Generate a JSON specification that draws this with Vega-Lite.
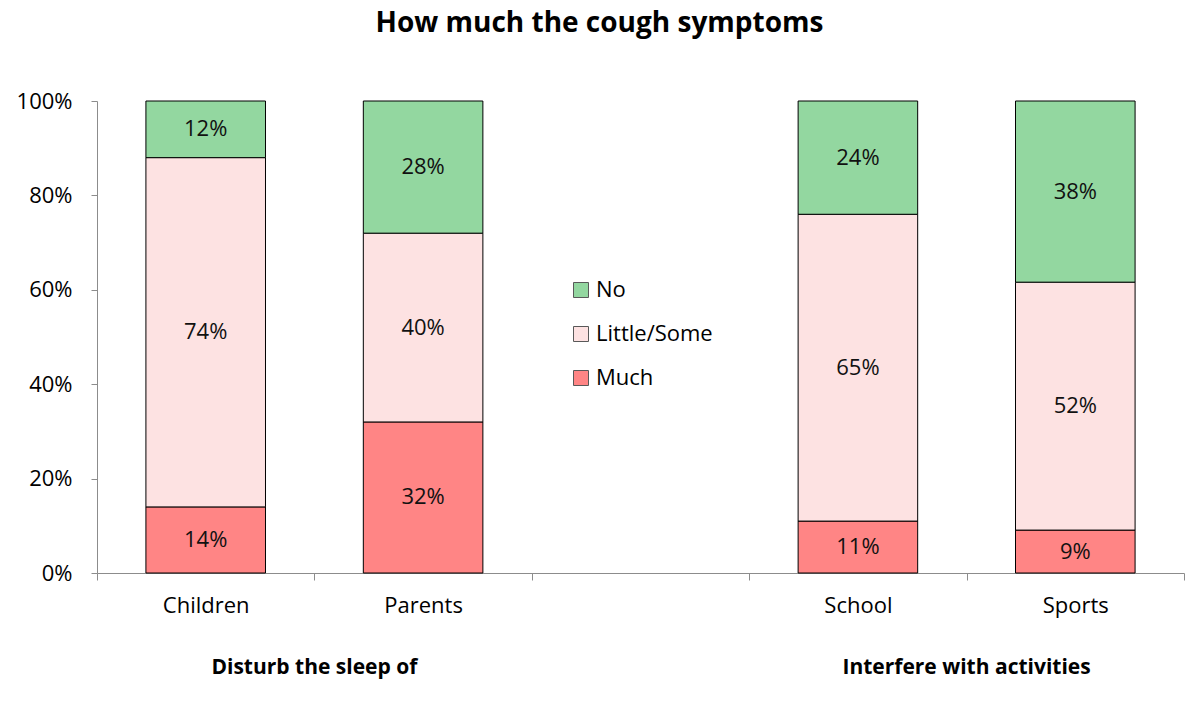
{
  "$schema": "https://vega.github.io/schema/vega-lite/v6.json",
  "width": 1087,
  "height": 472,
  "autosize": {"type": "none"},
  "padding": {"left": 97, "top": 101, "right": 16, "bottom": 128},
  "title": {"text": "How much the cough symptoms", "fontSize": 28, "fontWeight": "bold", "font": "Open Sans", "color": "#000", "anchor": "middle", "dx": -41, "offset": 52},
  "config": {"view": {"stroke": null}, "font": "Open Sans"},
  "datasets": {
    "bars": [
      {"item": "Children", "response": "Much", "level": 1, "value": 0.14},
      {"item": "Children", "response": "Little/Some", "level": 2, "value": 0.74},
      {"item": "Children", "response": "No", "level": 3, "value": 0.12},
      {"item": "Parents", "response": "Much", "level": 1, "value": 0.32},
      {"item": "Parents", "response": "Little/Some", "level": 2, "value": 0.40},
      {"item": "Parents", "response": "No", "level": 3, "value": 0.28},
      {"item": "School", "response": "Much", "level": 1, "value": 0.11},
      {"item": "School", "response": "Little/Some", "level": 2, "value": 0.65},
      {"item": "School", "response": "No", "level": 3, "value": 0.24},
      {"item": "Sports", "response": "Much", "level": 1, "value": 0.09},
      {"item": "Sports", "response": "Little/Some", "level": 2, "value": 0.52},
      {"item": "Sports", "response": "No", "level": 3, "value": 0.38}
    ],
    "groups": [
      {"item": "Parents", "group": "Disturb the sleep of"},
      {"item": "Sports", "group": "Interfere with activities"}
    ]
  },
  "layer": [
    {
      "data": {"name": "bars"},
      "mark": {"type": "bar", "stroke": "#000", "strokeWidth": 1, "width": {"band": 0.55}},
      "encoding": {
        "x": {
          "field": "item", "type": "nominal",
          "scale": {"domain": ["Children", "Parents", " ", "School", "Sports"], "paddingInner": 0, "paddingOuter": 0},
          "axis": {"title": null, "labelAngle": 0, "tickBand": "extent", "domainColor": "#8c8c8c", "tickColor": "#8c8c8c", "tickSize": 7, "labelFontSize": 22, "labelColor": "#000", "labelPadding": 15, "labelFont": "Open Sans"}
        },
        "y": {
          "field": "value", "type": "quantitative", "stack": "normalize",
          "scale": {"domain": [0, 1]},
          "axis": {"title": null, "format": ".0%", "values": [0, 0.2, 0.4, 0.6, 0.8, 1], "grid": false, "domainColor": "#8c8c8c", "tickColor": "#8c8c8c", "tickSize": 6, "labelFontSize": 22, "labelPadding": 19, "labelColor": "#000", "labelFont": "Open Sans"}
        },
        "color": {
          "field": "response", "type": "nominal",
          "scale": {"domain": ["No", "Little/Some", "Much"], "range": ["#93D7A0", "#FDE2E2", "#FF8585"]},
          "legend": {"title": null, "orient": "none", "legendX": 473, "legendY": 178, "padding": 0, "symbolType": "square", "symbolSize": 225, "symbolStrokeColor": "#595959", "symbolStrokeWidth": 1, "labelFontSize": 22, "labelColor": "#000", "labelFont": "Open Sans", "rowPadding": 22, "labelOffset": 4}
        },
        "order": {"field": "level", "type": "quantitative"}
      }
    },
    {
      "data": {"name": "bars"},
      "mark": {"type": "text", "fontSize": 22, "color": "#111", "baseline": "middle"},
      "encoding": {
        "x": {"field": "item", "type": "nominal", "scale": {"domain": ["Children", "Parents", " ", "School", "Sports"], "paddingInner": 0, "paddingOuter": 0}},
        "y": {"field": "value", "type": "quantitative", "stack": "normalize", "bandPosition": 0.5},
        "detail": {"field": "response"},
        "order": {"field": "level", "type": "quantitative"},
        "text": {"field": "value", "type": "quantitative", "format": ".0%"}
      }
    },
    {
      "data": {"name": "groups"},
      "mark": {"type": "text", "fontSize": 21, "fontWeight": "bold", "color": "#000", "baseline": "middle", "dy": 95},
      "encoding": {
        "x": {"field": "item", "type": "nominal", "bandPosition": 0, "scale": {"domain": ["Children", "Parents", " ", "School", "Sports"], "paddingInner": 0, "paddingOuter": 0}},
        "y": {"datum": 0, "type": "quantitative"},
        "text": {"field": "group"}
      }
    }
  ]
}
